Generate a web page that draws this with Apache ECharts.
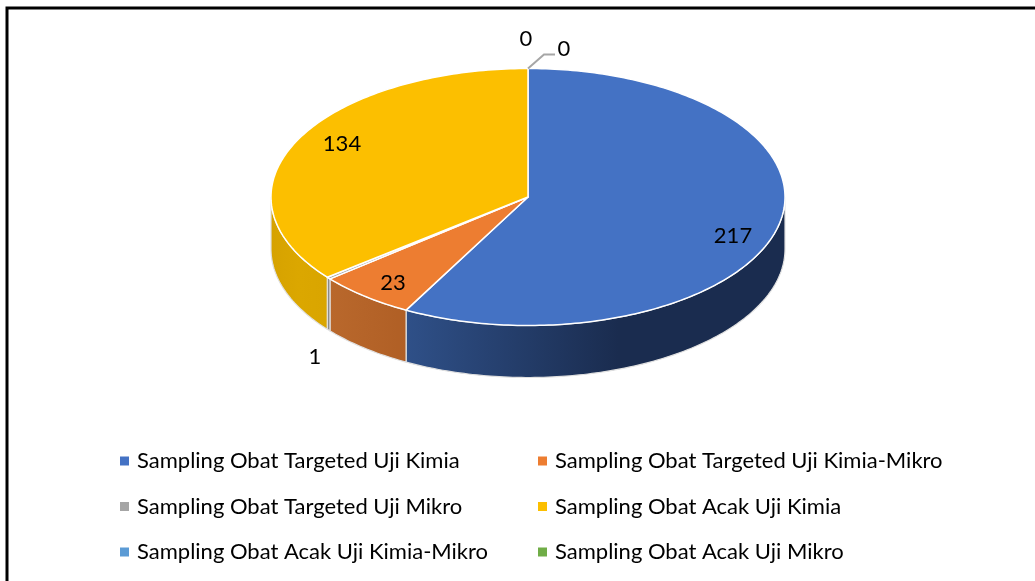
<!DOCTYPE html>
<html><head><meta charset="utf-8">
<style>html,body{margin:0;padding:0;background:#fff}#c{width:1035px;height:581px}</style>
<script src="https://cdn.jsdelivr.net/npm/echarts@6/dist/echarts.min.js"></script>
</head><body><div id="c"></div>
<script>
// Data
const categories = ['Sampling Obat Targeted Uji Kimia','Sampling Obat Targeted Uji Kimia-Mikro','Sampling Obat Targeted Uji Mikro','Sampling Obat Acak Uji Kimia','Sampling Obat Acak Uji Kimia-Mikro','Sampling Obat Acak Uji Mikro'];
const values = [217, 23, 1, 134, 0, 0];
// Styles and layout
const colors = ['#4472c4','#ed7d31','#a5a5a5','#fcbf00','#5b9bd5','#70ad47'];
const wallStops = [
  [[0,'#2f5088'],[0.56,'#1a2c4f'],[1,'#1a2c4f']],
  [[0,'#b9682c'],[1,'#b05f25']],
  [[0,'#8a8a8a'],[1,'#8a8a8a']],
  [[0,'#d6a200'],[0.5,'#dba700'],[1,'#d9a500']],
  [[0,'#44749f'],[1,'#44749f']],
  [[0,'#54823a'],[1,'#54823a']]
];
const CX = 528, CY = 197, RX = 257, RY = 128.5, DEPTH = 52;
const labelPos = [[733,236],[393,283],[315,357],[342,144],[526,39],[564,49]];
const FONT = 'Lato';
const total = values.reduce((a,b)=>a+b,0);
const pt = (deg, dy) => { const r = deg*Math.PI/180; return [CX+RX*Math.sin(r), CY-RY*Math.cos(r)+(dy||0)]; };
const arc = (a,b,dy) => { const out=[]; const n=Math.max(2,Math.ceil(b-a)); for(let i=0;i<=n;i++) out.push(pt(a+(b-a)*i/n,dy)); return out; };
const startOf = idx => { let sum = 0; for(let i=0;i<idx;i++) sum += values[i]; return sum; };

function makeWallRender(idx){
  return function(params, api){
    const v = api.value(0), sum = startOf(idx);
    const wa = Math.max(sum/total*360,90), wb = Math.min((sum+v)/total*360,270);
    const children = [];
    if (v > 0 && wb > wa) {
      children.push({type:'polygon',shape:{points:arc(wa,wb,0).concat(arc(wa,wb,DEPTH).reverse())},
        style:{fill:new echarts.graphic.LinearGradient(0,0,1,0,wallStops[idx].map(s=>({offset:s[0],color:s[1]}))),
          stroke:'#e0e0e0',lineWidth:1.2}});
    }
    return {type:'group',children:children};
  };
}
function makeTopRender(idx){
  return function(params, api){
    const v = api.value(0), sum = startOf(idx);
    const a0 = sum/total*360, a1 = (sum+v)/total*360;
    const children = [];
    if (v > 0) {
      children.push({type:'polygon',shape:{points:[[CX,CY]].concat(arc(a0,a1,0))},
        style:{fill:colors[idx],stroke:'#ffffff',lineWidth:1.5,lineJoin:'round'}});
    }
    if (idx === 5) {
      const top = pt(0,0);
      children.push({type:'polyline',shape:{points:[top,[top[0]+16,top[1]-14],[top[0]+27,top[1]-14]]},
        style:{fill:null,stroke:'#a6a6a6',lineWidth:2}});
    }
    children.push({type:'text',style:{text:String(v),x:labelPos[idx][0],y:labelPos[idx][1],
      align:'center',verticalAlign:'middle',fill:'#000',font:'22px '+FONT}});
    return {type:'group',children:children};
  };
}
const series = [];
categories.forEach((name,i)=>{
  series.push({type:'custom',name:name,coordinateSystem:'none',data:[[values[i]]],renderItem:makeWallRender(i),
    itemStyle:{color:colors[i]},z:2,silent:true,animation:false});
});
categories.forEach((name,i)=>{
  series.push({type:'custom',name:name,coordinateSystem:'none',data:[[values[i]]],renderItem:makeTopRender(i),
    itemStyle:{color:colors[i]},z:3,silent:true,animation:false});
});
const legendBase = {orient:'vertical',icon:'rect',itemWidth:9,itemHeight:9,itemGap:23.5,selectedMode:false,
  textStyle:{fontFamily:FONT,fontSize:22,color:'#000',padding:[0,0,0,3]},padding:0};
const chart = echarts.init(document.getElementById('c'),null,{renderer:'canvas'});
chart.setOption({
  backgroundColor:'#fff',animation:false,
  legend:[
    Object.assign({},legendBase,{left:120,top:450,data:[categories[0],categories[2],categories[4]]}),
    Object.assign({},legendBase,{left:538,top:450,data:[categories[1],categories[3],categories[5]]})
  ],
  graphic:[{type:'polyline',shape:{points:[[7,581],[7,8],[1035,8]]},style:{fill:null,stroke:'#000',lineWidth:3},z:10,silent:true}],
  series:series
});
</script></body></html>
